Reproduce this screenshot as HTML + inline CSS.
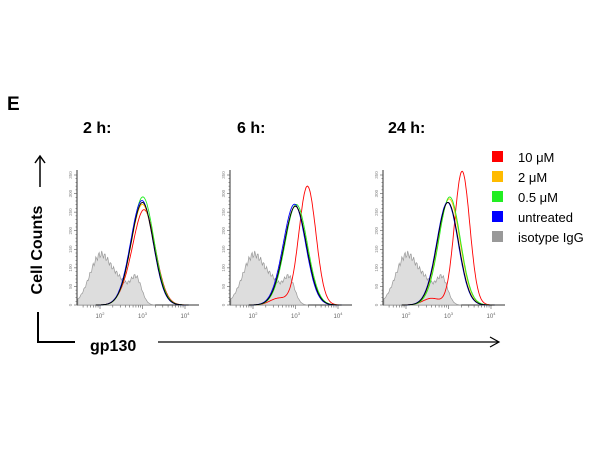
<!DOCTYPE html>
<html><head><style>body{margin:0;background:#fff}</style></head><body>
<svg id="s" width="600" height="447" xmlns="http://www.w3.org/2000/svg" font-family="Liberation Sans, sans-serif">
<rect width="600" height="447" fill="#fff"/>
<text x="7" y="110" font-size="19" font-weight="bold">E</text>
<text x="83" y="133" font-size="16" font-weight="bold">2 h:</text>
<text x="237" y="133" font-size="16" font-weight="bold">6 h:</text>
<text x="388" y="133" font-size="16" font-weight="bold">24 h:</text>
<text transform="translate(42,250) rotate(-90)" font-size="16" font-weight="bold" text-anchor="middle">Cell Counts</text>
<line x1="40" y1="187" x2="40" y2="157" stroke="#000" stroke-width="1.5"/>
<path d="M35,163 L40,156 L45,163" fill="none" stroke="#000" stroke-width="1.5"/>
<path d="M38,312 L38,342 L75,342" fill="none" stroke="#000" stroke-width="2"/>
<text x="90" y="351" font-size="16" font-weight="bold">gp130</text>
<line x1="158" y1="342" x2="498" y2="342" stroke="#000" stroke-width="1.2"/>
<path d="M490,337 L499,342 L490,347" fill="none" stroke="#000" stroke-width="1.2"/>
<g font-size="13">
<rect x="492" y="151" width="11" height="11" fill="#f00"/><text x="518" y="162">10 μM</text>
<rect x="492" y="171" width="11" height="11" fill="#fb0"/><text x="518" y="182">2 μM</text>
<rect x="492" y="191" width="11" height="11" fill="#2e2"/><text x="518" y="202">0.5 μM</text>
<rect x="492" y="211" width="11" height="11" fill="#00f"/><text x="518" y="222">untreated</text>
<rect x="492" y="231" width="11" height="11" fill="#999"/><text x="518" y="242">isotype IgG</text>
</g>
<g id="p"></g>
</svg>
<script>
var g=document.getElementById('p'),h='';
function G(x,m,s){return Math.exp(-(x-m)*(x-m)/(2*s*s));}
var panels=[[77,[255,270,290,280,275],[3.04,3.0,3.01,2.99,3.0],[0.26,0.26,0.26,0.26,0.26]],
 [230,[320,265,270,270,265],[3.28,3.0,3.02,2.98,3.0],[0.2,0.26,0.26,0.26,0.26]],
 [383,[360,285,290,275,275],[3.32,3.02,3.03,2.98,2.99],[0.18,0.25,0.25,0.25,0.25]]];
var cols=['#f00','#fb0','#2e2','#00f','#000'];
panels.forEach(function(P){
 var x0=P[0],yb=305,sc=130/350;
 function X(l){return x0+23+(l-2)*42.5;}
 h+='<line x1="'+x0+'" y1="'+yb+'" x2="'+x0+'" y2="170" stroke="#333" stroke-width="1"/>';
 h+='<line x1="'+x0+'" y1="'+yb+'" x2="'+(x0+122)+'" y2="'+yb+'" stroke="#333" stroke-width="1"/>';
 for(var v=0;v<=350;v+=10){var yy=yb-v*sc;h+='<line x1="'+(x0-(v%50?1.5:3))+'" y1="'+yy+'" x2="'+x0+'" y2="'+yy+'" stroke="#555" stroke-width="0.6"/>';
  if(v%50==0)h+='<text transform="translate('+(x0-5)+','+yy+') rotate(-90)" font-size="4.5" fill="#888" text-anchor="middle">'+v+'</text>';}
 for(var d=1;d<5;d++)for(var k=1;k<10;k++){var l=d+Math.log10(k);if(l<1.5||l>4.3)continue;var xx=X(l);h+='<line x1="'+xx+'" y1="'+yb+'" x2="'+xx+'" y2="'+(yb+(k==1?4:2.5))+'" stroke="#555" stroke-width="0.6"/>';}
 [2,3,4].forEach(function(e){h+='<text x="'+X(e)+'" y="'+(yb+13)+'" font-size="6" fill="#666" text-anchor="middle">10<tspan dy="-3" font-size="4">'+e+'</tspan></text>';});
 var pts=[];for(var l=1.48;l<=3.3;l+=0.02){var c=135*G(l,2.02,0.26)+70*G(l,2.85,0.13)+45*G(l,2.5,0.18);c*=1+0.07*Math.sin(l*90);pts.push(X(l).toFixed(1)+','+(yb-c*sc).toFixed(1));}
 h+='<polygon points="'+X(1.48)+','+yb+' '+pts.join(' ')+' '+X(3.3)+','+yb+'" fill="#ddd" stroke="#999" stroke-width="0.7"/>';
 for(var i=0;i<5;i++){var q=[];var m=P[2][i],s=P[3][i];for(var l=1.9;l<=4.1;l+=0.015){var c=P[1][i]*G(l,m,s)+(i==0?18:8)*G(l,2.6,0.2);q.push(X(l).toFixed(1)+','+(yb-c*sc).toFixed(1));}
  h+='<polyline points="'+q.join(' ')+'" fill="none" stroke="'+cols[i]+'" stroke-width="0.9"/>';}
});
g.innerHTML=h;
</script>
</body></html>
